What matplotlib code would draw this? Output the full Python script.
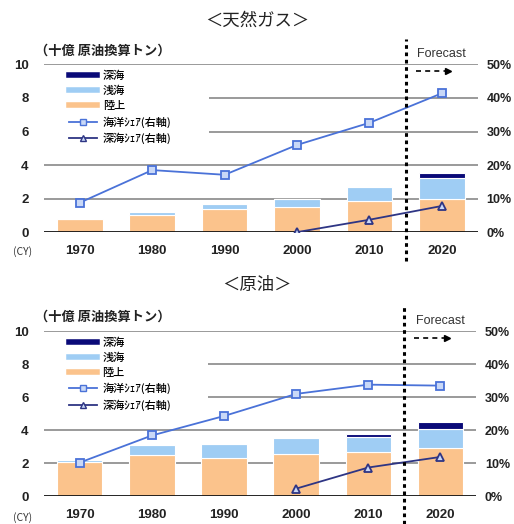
import matplotlib
matplotlib.use('Agg')
import matplotlib.pyplot as plt
import matplotlib.transforms as mtransforms
from matplotlib.lines import Line2D
from matplotlib.patches import Rectangle

plt.rcParams['font.family'] = ['Noto Sans CJK JP', 'DejaVu Sans']

years = ['1970', '1980', '1990', '2000', '2010', '2020']

# natural gas (billion toe) and shares (%)
gas_onshore = [0.8, 1.0, 1.4, 1.5, 1.85, 2.0]
gas_shallow = [0.0, 0.2, 0.3, 0.5, 0.85, 1.2]
gas_deep = [0.0, 0.0, 0.0, 0.0, 0.0, 0.3]
gas_ocean_share = [8.8, 18.5, 17.1, 26.0, 32.6, 41.4]
gas_deep_share = [None, None, None, 0.0, 3.7, 7.8]

# crude oil
oil_onshore = [2.1, 2.5, 2.3, 2.55, 2.65, 2.95]
oil_shallow = [0.1, 0.6, 0.85, 0.95, 0.95, 1.1]
oil_deep = [0.0, 0.0, 0.0, 0.0, 0.2, 0.45]
oil_ocean_share = [10.2, 18.4, 24.3, 31.0, 33.8, 33.5]
oil_deep_share = [None, None, None, 2.3, 8.7, 11.9]

C_ON = '#fbc38c'
C_SH = '#9fcdf4'
C_DEEP = '#0a0a78'
C_OCEAN = '#4a72d8'
C_DSH = '#2e3584'
TICKFONT = ['Liberation Sans', 'DejaVu Sans']

fig = plt.figure(figsize=(5.14, 5.24), dpi=100)


def panel(rect, title, title_y, cy_y, onshore, shallow, deep, ocean, dshare):
    ax = fig.add_axes(rect)
    x = list(range(len(years)))
    ax.set_xlim(-0.5, 5.5)
    ax.set_ylim(0, 10)
    for g in [2, 4, 6, 8, 10]:
        ax.axhline(g, color='#9a9a9a', lw=1.4, zorder=0)
    ax.axhline(0, color='#111111', lw=2, zorder=4)
    # white box behind the legend
    ax.add_patch(Rectangle((0, 0.49), 0.38, 0.49, transform=ax.transAxes,
                           facecolor='white', edgecolor='none', zorder=1))
    bot2 = [a + b for a, b in zip(onshore, shallow)]
    ax.bar(x, onshore, width=0.63, color=C_ON, edgecolor='white', lw=0.8, zorder=2)
    ax.bar(x, shallow, bottom=onshore, width=0.63, color=C_SH, edgecolor='white', lw=0.8, zorder=2)
    ax.bar(x, deep, bottom=bot2, width=0.63, color=C_DEEP, edgecolor='white', lw=0.8, zorder=2)
    ax.set_xticks(x)
    ax.set_xticklabels(years)
    ax.set_yticks([0, 2, 4, 6, 8, 10])
    ax.tick_params(length=0, labelsize=9.5, colors='#222222')
    ax.tick_params(axis='x', pad=9)
    ax.tick_params(axis='y', pad=11)
    for lab in ax.get_xticklabels() + ax.get_yticklabels():
        lab.set_family(TICKFONT)
        lab.set_fontweight('bold')
    for s in ax.spines.values():
        s.set_visible(False)

    ax2 = ax.twinx()
    ax2.set_ylim(0, 50)
    ax2.set_yticks([0, 10, 20, 30, 40, 50])
    ax2.set_yticklabels(['%d%%' % v for v in [0, 10, 20, 30, 40, 50]])
    ax2.tick_params(length=0, labelsize=9, colors='#222222', pad=6)
    for lab in ax2.get_yticklabels():
        lab.set_family(TICKFONT)
        lab.set_fontweight('bold')
    for s in ax2.spines.values():
        s.set_visible(False)
    ax2.plot(x, ocean, color=C_OCEAN, lw=1.3, marker='s', ms=5.5,
             mfc='#c9d8f7', mec=C_OCEAN, mew=1.3, zorder=5)
    dx = [i for i, v in zip(x, dshare) if v is not None]
    dy = [v for v in dshare if v is not None]
    ax2.plot(dx, dy, color=C_DSH, lw=1.3, marker='^', ms=6,
             mfc='#c9d8f7', mec=C_DSH, mew=1.3, zorder=5)

    handles = [Line2D([], [], color=C_DEEP, lw=4),
               Line2D([], [], color=C_SH, lw=4),
               Line2D([], [], color=C_ON, lw=4),
               Line2D([], [], color=C_OCEAN, lw=1.3, marker='s', ms=4.5, mfc='#c9d8f7', mec=C_OCEAN),
               Line2D([], [], color=C_DSH, lw=1.3, marker='^', ms=5, mfc='#c9d8f7', mec=C_DSH)]
    labels = ['深海', '浅海', '陸上', '海洋ｼｪｱ(右軸)', '深海ｼｪｱ(右軸)']
    ax2.legend(handles, labels, loc='upper left', bbox_to_anchor=(0.045, 1.0),
               frameon=False, prop={'size': 8, 'weight': 'medium'},
               handlelength=2.5, handletextpad=0.5,
               labelspacing=0.45, borderaxespad=0.15)

    # forecast divider
    tr = mtransforms.blended_transform_factory(ax.transData, ax.transAxes)
    ax2.plot([4.5, 4.5], [-0.17, 1.15], transform=tr, color='black', lw=2.2,
             ls=(0, (1.2, 1.2)), clip_on=False, zorder=6)
    ax.text(5.0, 1.06, 'Forecast', transform=tr, ha='center', va='center',
            fontsize=9, color='#333333', family=TICKFONT)
    ax2.plot([4.64, 5.05], [0.96, 0.96], transform=tr, color='black', lw=1.2,
             ls=(0, (3, 2.5)), clip_on=False)
    ax2.plot([5.09], [0.96], transform=tr, color='black', marker='>', ms=4,
             clip_on=False)

    ax.text(-0.02, 1.085, '（十億 原油換算トン）', transform=ax.transAxes,
            ha='left', va='center', fontsize=9.5, fontweight='bold', color='#222222')
    fig.text(0.5, title_y, title, ha='center', va='center', fontsize=12.5, color='#222222')
    fig.text(0.026, cy_y, '(CY)', ha='left', va='center', fontsize=7.5, color='#333333')


panel([0.085, 0.557, 0.845, 0.32], '＜天然ガス＞', 1 - 21 / 524, 1 - 252 / 524,
      gas_onshore, gas_shallow, gas_deep, gas_ocean_share, gas_deep_share)
panel([0.085, 0.053, 0.842, 0.315], '＜原油＞', 1 - 285 / 524, 1 - 518 / 524,
      oil_onshore, oil_shallow, oil_deep, oil_ocean_share, oil_deep_share)

fig.savefig('out.png', dpi=100, facecolor='white')
